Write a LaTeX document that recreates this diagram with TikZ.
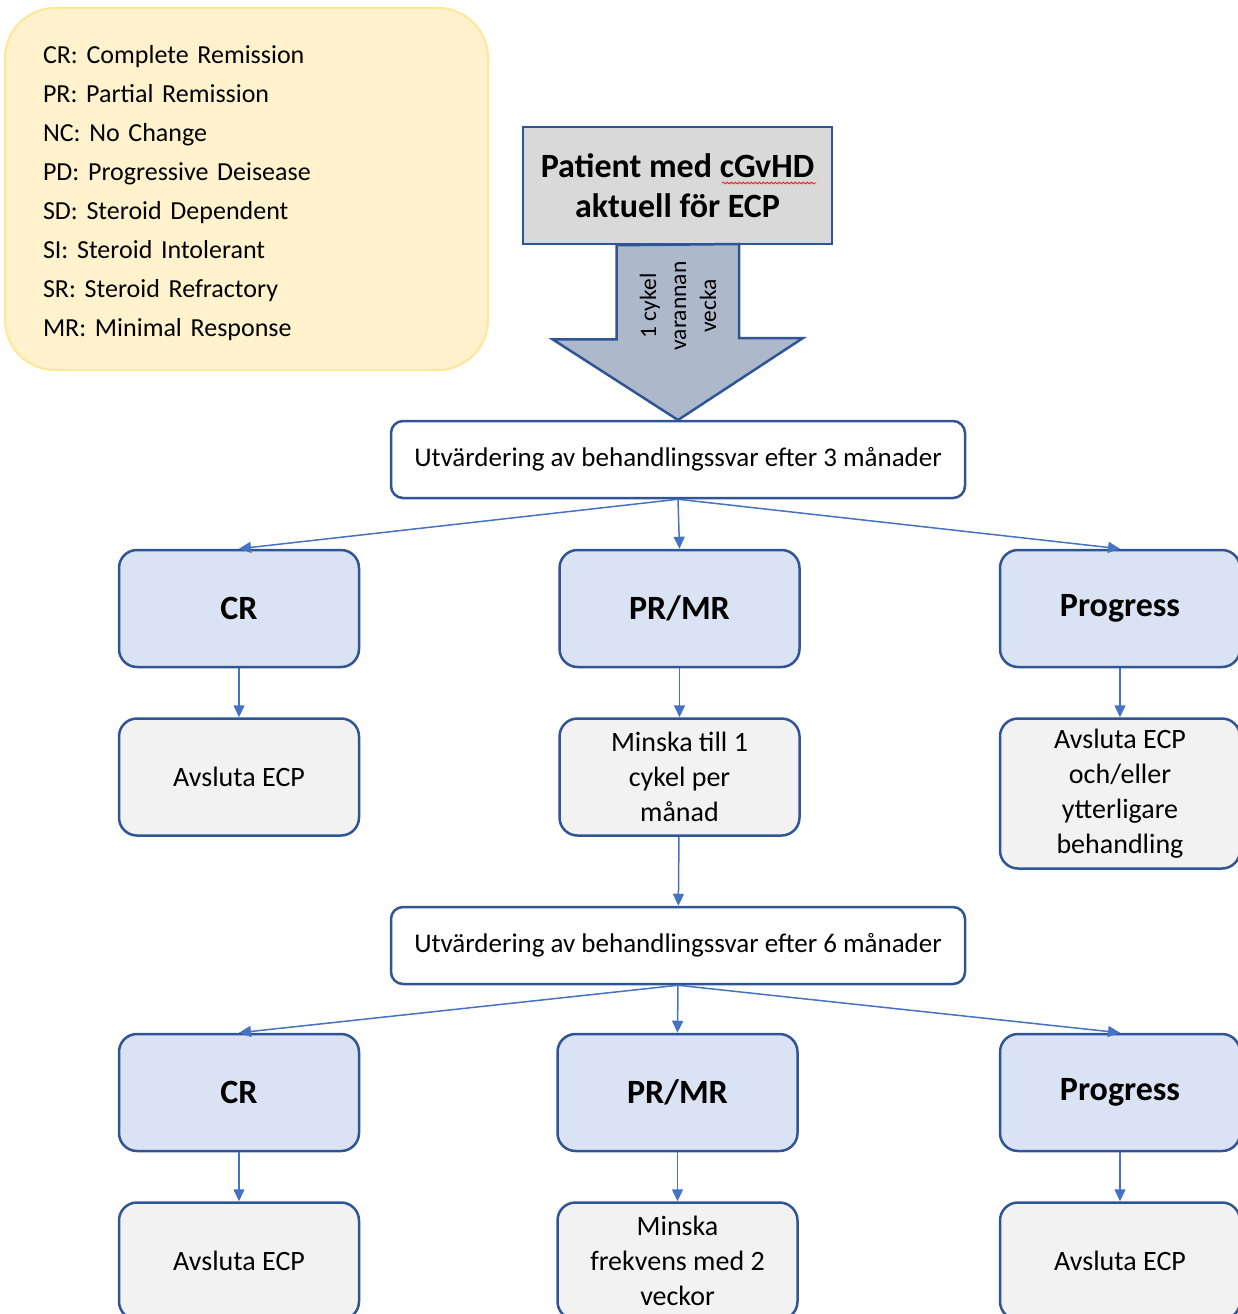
\documentclass[tikz,border=0pt]{standalone}
\usepackage{fontspec}
\setmainfont{Carlito}
\usetikzlibrary{positioning,arrows.meta,decorations.pathmorphing}
\frenchspacing

\definecolor{boxblue}{HTML}{2F5597}
\definecolor{linkblue}{HTML}{4472C4}
\definecolor{legfill}{HTML}{FFF2CC}
\definecolor{legline}{HTML}{FFE699}
\definecolor{topgray}{HTML}{D9D9D9}
\definecolor{arrowfill}{HTML}{ADB9CA}
\definecolor{resfill}{HTML}{DAE3F3}
\definecolor{actfill}{HTML}{F2F2F2}

\begin{document}
\begin{tikzpicture}[x=1pt, y=-1pt, node distance=49pt]
  \tikzstyle{result} = [rectangle, draw=boxblue, line width=2.5pt, fill=resfill, rounded corners=18pt,
    minimum width=240pt, minimum height=117pt, inner sep=0pt, font=\fontsize{34}{40}\selectfont\bfseries]
  \tikzstyle{action} = [rectangle, draw=boxblue, line width=2.5pt, fill=actfill, rounded corners=18pt,
    minimum width=240pt, minimum height=117pt, align=center, inner sep=0pt,
    font=\fontsize{28}{35}\selectfont]
  \tikzstyle{evalbox} = [rectangle, draw=boxblue, line width=2.5pt, fill=white, rounded corners=12pt,
    minimum width=574pt, minimum height=77pt, inner sep=0pt, font=\fontsize{27}{32}\selectfont]
  \tikzstyle{link} = [draw=linkblue, line width=1.5pt, -{Triangle[length=12pt,width=11pt]}]

  \useasboundingbox (0,0) rectangle (1237,1314);

  % legend
  \node[rectangle, draw=legline, line width=2pt, fill=legfill, rounded corners=50pt,
    minimum width=483pt, minimum height=362pt, text width=407pt, inner xsep=38pt,
    align=left, font=\fontsize{26}{39}\selectfont] (legend) at (246.5,189) {};
  \node[text width=407pt, inner sep=0pt, align=left, font=\fontsize{26}{39}\selectfont] (abbr) at (246.5,193)
    {CR: Complete Remission\\ PR: Partial Remission\\ NC: No Change\\ PD: Progressive Deisease\\
     SD: Steroid Dependent\\ SI: Steroid Intolerant\\ SR: Steroid Refractory\\ MR: Minimal Response};

  % start
  \node[rectangle, draw=boxblue, line width=2.5pt, fill=topgray, minimum width=309pt, minimum height=117pt,
    align=center, font=\fontsize{34}{40}\selectfont\bfseries] (top) at (677.5,185.5)
    {Patient med cGvHD\\ aktuell för ECP};
  \draw[red, line width=0.7pt, decorate, decoration={snake, amplitude=1pt, segment length=4pt}]
    (722,183) -- (816,183);

  % big arrow
  \draw[boxblue, line width=2.5pt, fill=arrowfill, line join=miter]
    (top.south) ++(-61,0) -- ++(0,94) -- ++(-64,0) -- (678,420) -- (803,338) -- ++(-64,0) -- ++(0,-94) -- cycle;
  \node[rotate=90, align=center, font=\fontsize{23.5}{30}\selectfont] (freq) at (678,306)
    {1 cykel\\ varannan\\ vecka};

  % 3 months
  \node[evalbox] (eval1) at (678,459.5) {Utvärdering av behandlingssvar efter 3 månader};

  \node[result] (cr1) at (239,608.5) {CR};
  \node[result] (pr1) at (679.5,608.5) {PR/MR};
  \node[result] (pg1) at (1120,608.5) {Progress};

  \node[action, below=of cr1] (stop1) {Avsluta ECP};
  \node[action, below=of pr1] (less1) {Minska till 1\\ cykel per\\ månad};
  \node[action, below=of pg1, minimum height=150pt] (more1) {Avsluta ECP\\ och/eller\\ ytterligare\\ behandling};

  % 6 months
  \node[evalbox] (eval2) at (678,945.5) {Utvärdering av behandlingssvar efter 6 månader};

  \node[result] (cr2) at (239,1092.5) {CR};
  \node[result] (pr2) at (677.5,1092.5) {PR/MR};
  \node[result] (pg2) at (1120,1092.5) {Progress};

  \node[action, below=of cr2] (stop2) {Avsluta ECP};
  \node[action, below=of pr2] (less2) {Minska\\ frekvens med 2\\ veckor};
  \node[action, below=of pg2] (stop3) {Avsluta ECP};

  \draw[link] (eval1.south) -- (cr1.north);
  \draw[link] (eval1.south) -- (pr1.north);
  \draw[link] (eval1.south) -- (pg1.north);
  \draw[link] (cr1) -- (stop1);
  \draw[link] (pr1) -- (less1);
  \draw[link] (pg1) -- (more1);
  \draw[link] (less1) -- (eval2);

  \draw[link] (eval2.south) -- (cr2.north);
  \draw[link] (eval2.south) -- (pr2.north);
  \draw[link] (eval2.south) -- (pg2.north);
  \draw[link] (cr2) -- (stop2);
  \draw[link] (pr2) -- (less2);
  \draw[link] (pg2) -- (stop3);

\end{tikzpicture}
\end{document}
